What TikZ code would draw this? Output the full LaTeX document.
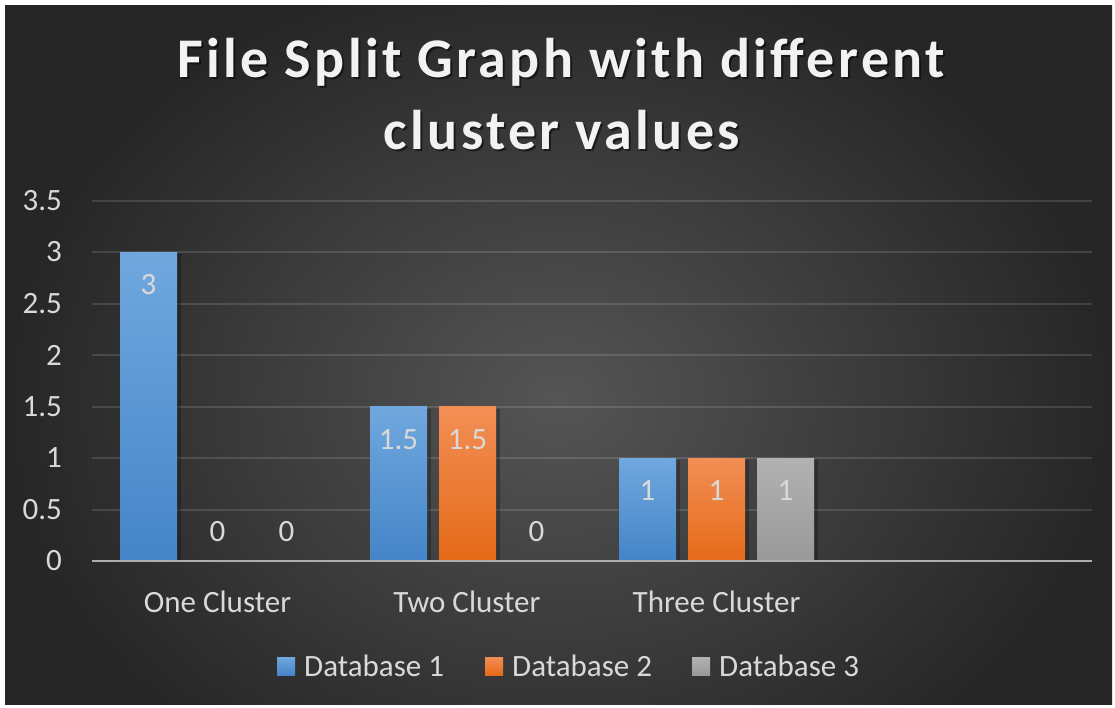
\documentclass[tikz,border=0pt]{standalone}
\usepackage{fontspec}
\setmainfont{Carlito}
\definecolor{bgin}{HTML}{555555}
\definecolor{bgout}{HTML}{262626}
\definecolor{txt}{HTML}{D9D9D9}
\definecolor{blueT}{HTML}{70A8DE}
\definecolor{blueB}{HTML}{4484C8}
\definecolor{oraT}{HTML}{F28E55}
\definecolor{oraB}{HTML}{E56A18}
\definecolor{grayT}{HTML}{B2B2B2}
\definecolor{grayB}{HTML}{999999}
\tikzset{
  lbl/.style={text=txt, font=\fontsize{31}{36}\selectfont, inner sep=0pt},
  ttl/.style={font=\bfseries\fontsize{56}{66}\selectfont\addfontfeatures{LetterSpace=6}, inner sep=0pt},
  grid/.style={draw=white, draw opacity=0.13, line width=2pt},
  base/.style={draw=txt!80!black, line width=2.5pt},
  shadowbar/.style={fill=black, fill opacity=0.25},
}
\newcommand{\mybar}[4]{% x, value, topcolor, bottomcolor
  \fill[shadowbar] (#1+3,{561-103*#2+2}) rectangle (#1+61,561);
  \shade[top color=#3, bottom color=#4] (#1,{561-103*#2}) rectangle (#1+57,561);
}
\begin{document}
\begin{tikzpicture}[x=1pt,y=-1pt]
\useasboundingbox (0,0) rectangle (1115,707);
\fill[white] (0,0) rectangle (1115,707);
\begin{scope}
\clip (5,5) rectangle (1112,704);
\shade[inner color=bgin, outer color=bgout] (5,-40) rectangle (1112,840);
\end{scope}
% gridlines
\foreach \v in {0.5,1,...,3.5}
  \draw[grid] (92,{561-103*\v}) -- (1092,{561-103*\v});
% axis labels
\foreach \v/\t [count=\i] in {0/0,0.5/0.5,1/1,1.5/1.5,2/2,2.5/2.5,3/3,3.5/3.5}
  \node[lbl, anchor=east] (ax\i) at (62,{561-103*\v}) {\t};
% bars
\mybar{120}{3}{blueT}{blueB}
\mybar{370}{1.5}{blueT}{blueB}
\mybar{439}{1.5}{oraT}{oraB}
\mybar{619}{1}{blueT}{blueB}
\mybar{688}{1}{oraT}{oraB}
\mybar{757}{1}{grayT}{grayB}
% baseline
\draw[base] (92,561) -- (1092,561);
% value labels
\node[lbl] (v1) at (148.5,{561-103*3+33}) {3};
\node[lbl] (v2) at (217.5,532) {0};
\node[lbl] (v3) at (286.5,532) {0};
\node[lbl] (v4) at (398.5,{561-103*1.5+33}) {1.5};
\node[lbl] (v5) at (467.5,{561-103*1.5+33}) {1.5};
\node[lbl] (v6) at (536.5,532) {0};
\node[lbl] (v7) at (647.5,{561-103+33}) {1};
\node[lbl] (v8) at (716.5,{561-103+33}) {1};
\node[lbl] (v9) at (785.5,{561-103+33}) {1};
% categories
\node[lbl] (c1) at (217.5,602) {One Cluster};
\node[lbl] (c2) at (467,602) {Two Cluster};
\node[lbl] (c3) at (716.5,602) {Three Cluster};
% legend
\shade[top color=blueT, bottom color=blueB] (277,657) rectangle (295,675);
\node[lbl, anchor=west] (l1) at (304,666) {Database 1};
\shade[top color=oraT, bottom color=oraB] (485,657) rectangle (503,675);
\node[lbl, anchor=west] (l2) at (512,666) {Database 2};
\shade[top color=grayT, bottom color=grayB] (692,657) rectangle (710,675);
\node[lbl, anchor=west] (l3) at (719,666) {Database 3};
% title
\node[ttl, text=black, text opacity=0.5] (t1s) at (563,64) {File Split Graph with different};
\node[ttl, text=black, text opacity=0.5] (t2s) at (564,132) {cluster values};
\node[ttl, text=white!95!black] (t1) at (561,62) {File Split Graph with different};
\node[ttl, text=white!95!black] (t2) at (562,130) {cluster values};
\end{tikzpicture}
\end{document}
